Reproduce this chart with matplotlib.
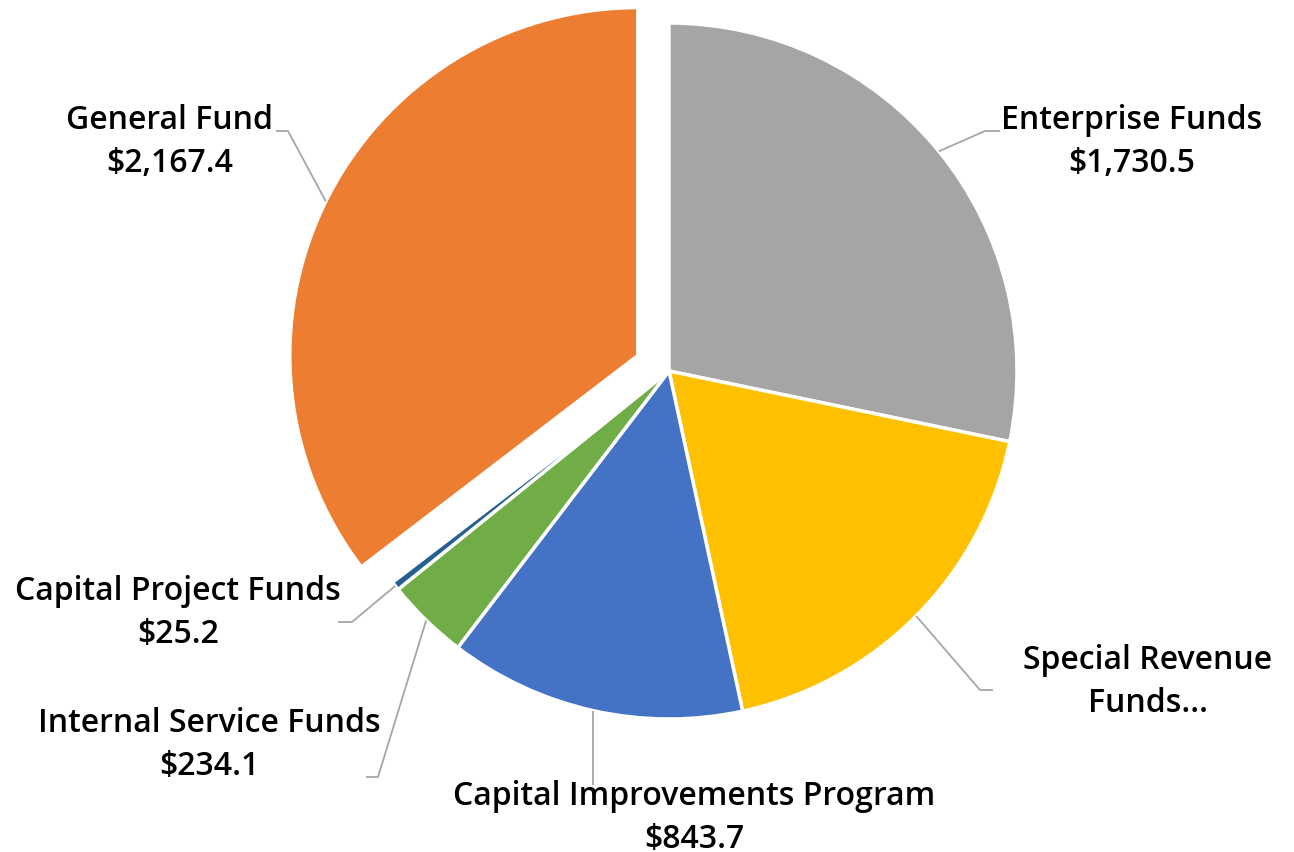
import matplotlib
matplotlib.use("Agg")
import matplotlib.pyplot as plt
import numpy as np

# fund totals, clockwise from 12 o'clock
funds = ["Enterprise Funds", "Special Revenue Funds", "Capital Improvements Program",
         "Internal Service Funds", "Capital Project Funds", "General Fund"]
amounts = [1730.5, 1124.0, 843.7, 234.1, 25.2, 2167.4]
label_text = ["Enterprise Funds\n$1,730.5", "Special Revenue\nFunds...",
              "Capital Improvements Program\n$843.7", "Internal Service Funds\n$234.1",
              "Capital Project Funds\n$25.2", "General Fund\n$2,167.4"]
colors = ["#A5A5A5", "#FFC000", "#4472C4", "#70AD47", "#255E91", "#ED7D31"]
explode = [0, 0, 0, 0, 0, 0.1]

W, H = 1294, 852
cx, cy, r = 669, H - 371, 348

# label layout in pixels (top-left origin): text centre, elbow, end of leader
layout = [
    dict(text=(1132, 142), elbow=(985, 131), end=(1000, 131)),
    dict(text=(1148, 682), elbow=(980, 690), end=(993, 690)),
    dict(text=(694, 818), elbow=(None, 785), end=(None, 785)),
    dict(text=(209, 745), elbow=(378, 777), end=(366, 777)),
    dict(text=(178, 613), elbow=(352, 622), end=(338, 622)),
    dict(text=(170, 142), elbow=(288, 131), end=(276, 131)),
]

fig = plt.figure(figsize=(W / 100, H / 100), dpi=100)
ax = fig.add_axes([0, 0, 1, 1])

# pie's explode is in data units, so scale by the radius
wedges, _ = ax.pie(amounts, colors=colors, startangle=90, counterclock=False,
                   explode=[e * r for e in explode], center=(cx, cy), radius=r,
                   frame=True, wedgeprops=dict(edgecolor="white", linewidth=2.5))
ax.set_xlim(0, W)
ax.set_ylim(0, H)
ax.set_aspect("equal")
ax.axis("off")

for w, lab, lay in zip(wedges, label_text, layout):
    mid = np.deg2rad((w.theta1 + w.theta2) / 2)
    wx, wy = w.center
    px = wx + r * np.cos(mid)
    py = wy + r * np.sin(mid)
    ex = lay["elbow"][0] if lay["elbow"][0] is not None else px
    nx = lay["end"][0] if lay["end"][0] is not None else px
    ax.plot([px, ex, nx], [py, H - lay["elbow"][1], H - lay["end"][1]],
            color="#A6A6A6", lw=1.3, solid_capstyle="butt")
    ax.text(lay["text"][0], H - lay["text"][1], lab, ha="center", va="center",
            fontsize=23, family="Open Sans", fontweight="semibold",
            linespacing=1.38, color="black")

fig.savefig("out.png", dpi=100)
